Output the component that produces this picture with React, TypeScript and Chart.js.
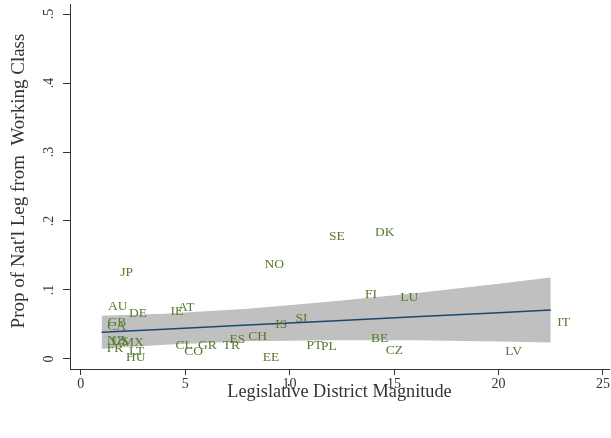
import React, { useEffect, useRef } from 'react';
import { Chart, registerables } from 'chart.js';

Chart.register(...registerables);

// Country labels and their values
const countries = ['JP', 'AU', 'DE', 'IE', 'AT', 'GB', 'CA', 'NZ', 'US', 'MX', 'FR', 'LT', 'HU', 'CL', 'CO', 'GR', 'TR', 'ES', 'CH', 'EE', 'IS', 'SI', 'NO', 'SE', 'DK', 'FI', 'LU', 'PT', 'PL', 'BE', 'CZ', 'LV', 'IT'];
const magnitude = [2.20, 1.77, 2.74, 4.60, 5.05, 1.73, 1.72, 1.69, 1.88, 2.50, 1.64, 2.68, 2.64, 4.95, 5.41, 6.07, 7.21, 7.50, 8.47, 9.11, 9.60, 10.57, 9.27, 12.26, 14.55, 13.90, 15.73, 11.19, 11.88, 14.31, 15.02, 20.72, 23.11];
const propWorking = [0.125, 0.076, 0.066, 0.069, 0.075, 0.053, 0.047, 0.027, 0.026, 0.0246, 0.0152, 0.0106, 0.0019, 0.0203, 0.0106, 0.0203, 0.0203, 0.0286, 0.0323, 0.0019, 0.0503, 0.0584, 0.137, 0.177, 0.183, 0.0938, 0.0888, 0.0193, 0.0178, 0.030, 0.012, 0.0116, 0.0532];

// Fitted line and confidence band
const fitX = [1, 4, 8, 12, 16, 20, 22.5];
const fitY = [0.0387, 0.0432, 0.0492, 0.0552, 0.0612, 0.0672, 0.071];
const ciUpper = [0.0627, 0.0657, 0.0727, 0.0832, 0.0952, 0.1092, 0.118];
const ciLower = [0.0147, 0.0207, 0.0257, 0.0272, 0.0272, 0.0252, 0.024];

// Axes
const xTicks = [0, 5, 10, 15, 20, 25];
const yTicks = [0, 0.1, 0.2, 0.3, 0.4, 0.5];
const yTickLabels = ['0', '.1', '.2', '.3', '.4', '.5'];
const xTitle = 'Legislative District Magnitude';
const yTitle = "Prop of Nat'l Leg from  Working Class";

const SERIF = "'Liberation Serif', 'Times New Roman', serif";
const AXIS_COLOR = '#333333';
const LABEL_COLOR = '#557a2e';

const textPlugin = {
  id: 'stataText',
  afterDraw(chart: any) {
    const ctx = chart.ctx;
    const xs = chart.scales.x;
    const ys = chart.scales.y;
    const area = chart.chartArea;
    ctx.save();
    // marker labels
    ctx.font = `13.5px ${SERIF}`;
    ctx.fillStyle = LABEL_COLOR;
    ctx.textAlign = 'center';
    ctx.textBaseline = 'middle';
    countries.forEach((c, i) => {
      ctx.fillText(c, xs.getPixelForValue(magnitude[i]), ys.getPixelForValue(propWorking[i]));
    });
    // y tick labels (rotated)
    ctx.fillStyle = AXIS_COLOR;
    ctx.font = `14px ${SERIF}`;
    yTicks.forEach((v, i) => {
      const py = ys.getPixelForValue(v);
      ctx.save();
      ctx.translate(49.5, py);
      ctx.rotate(-Math.PI / 2);
      ctx.fillText(yTickLabels[i], 0, 0);
      ctx.restore();
    });
    // y title
    ctx.font = `19px ${SERIF}`;
    ctx.save();
    ctx.translate(19, 181);
    ctx.rotate(-Math.PI / 2);
    ctx.fillText(yTitle, 0, 0);
    ctx.restore();
    // x title
    ctx.font = `18.3px ${SERIF}`;
    ctx.fillText(xTitle, (area.left + area.right) / 2, 392);
    ctx.restore();
  },
};

export default function App() {
  const ref = useRef<HTMLCanvasElement | null>(null);
  useEffect(() => {
    if (!ref.current) return;
    const toPts = (xa: number[], ya: number[]) => xa.map((x, i) => ({ x, y: ya[i] }));
    const chart = new Chart(ref.current, {
      type: 'scatter',
      data: {
        datasets: [
          {
            type: 'line',
            data: toPts(fitX, ciUpper),
            showLine: false,
            borderWidth: 0,
            borderColor: 'rgba(0,0,0,0)',
            backgroundColor: '#c0c0c0',
            pointRadius: 0,
            fill: '+1',
            order: 3,
          },
          {
            type: 'line',
            data: toPts(fitX, ciLower),
            showLine: false,
            borderWidth: 0,
            borderColor: 'rgba(0,0,0,0)',
            pointRadius: 0,
            fill: false,
            order: 3,
          },
          {
            type: 'line',
            data: toPts(fitX, fitY),
            showLine: true,
            borderColor: '#1a476f',
            borderWidth: 1.5,
            pointRadius: 0,
            fill: false,
            order: 1,
          },
          {
            data: toPts(magnitude, propWorking),
            showLine: false,
            pointRadius: 0,
            pointHoverRadius: 0,
            order: 0,
          },
        ],
      } as any,
      options: {
        responsive: false,
        animation: false,
        events: [],
        layout: { padding: { top: 4, right: 1, left: 0, bottom: 0 } },
        plugins: {
          legend: { display: false },
          tooltip: { enabled: false },
          title: { display: false },
          filler: { drawTime: 'beforeDatasetsDraw' },
        },
        scales: {
          x: {
            type: 'linear',
            min: -0.511,
            max: 25.29,
            afterBuildTicks: (s: any) => { s.ticks = xTicks.map((v) => ({ value: v })); },
            afterFit: (s: any) => { s.height = 69; },
            ticks: {
              font: { family: SERIF, size: 14 },
              color: AXIS_COLOR,
              padding: 1,
              maxRotation: 0,
              minRotation: 0,
              autoSkip: false,
              callback: (v: any) => String(v),
            },
            grid: { display: true, drawOnChartArea: false, drawTicks: true, tickLength: 6, color: AXIS_COLOR, lineWidth: 1 },
            border: { display: true, color: AXIS_COLOR, width: 1 },
          },
          y: {
            type: 'linear',
            min: -0.0145,
            max: 0.5145,
            afterBuildTicks: (s: any) => { s.ticks = yTicks.map((v) => ({ value: v })); },
            afterFit: (s: any) => { s.width = 70; },
            ticks: { display: false },
            grid: { display: true, drawOnChartArea: false, drawTicks: true, tickLength: 7, color: AXIS_COLOR, lineWidth: 1 },
            border: { display: true, color: AXIS_COLOR, width: 1 },
          },
        },
      } as any,
      plugins: [textPlugin],
    });
    return () => chart.destroy();
  }, []);
  return (
    <div style={{ position: 'fixed', left: 0, top: 0, width: 611, height: 438, background: '#ffffff' }}>
      <canvas ref={ref} width={611} height={438} style={{ display: 'block' }} />
    </div>
  );
}
